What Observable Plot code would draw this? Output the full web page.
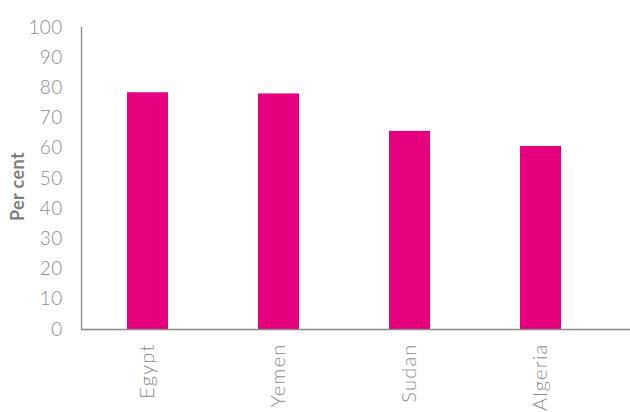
<!DOCTYPE html>
<html><head><meta charset="utf-8">
<script src="https://cdn.jsdelivr.net/npm/d3@7"></script>
<script src="https://cdn.jsdelivr.net/npm/@observablehq/plot@0.6"></script>
<style>
body{margin:0;background:#fff} svg{display:block}
g[aria-label="x-axis tick label"] text{letter-spacing:1.2px}
g[aria-label="y-axis tick label"] text{letter-spacing:0.3px}
g[aria-label="text"] text{letter-spacing:0.4px}
</style>
</head><body><div id="chart"></div>
<script>
const countries = ["Egypt", "Yemen", "Sudan", "Algeria"];
const values = [78.4, 78.0, 65.6, 60.6];
const yTicks = [0, 10, 20, 30, 40, 50, 60, 70, 80, 90, 100];
const yLabel = "Per cent";

const data = countries.map((c, i) => ({country: c, value: values[i]}));
const gray = "#8c8c8c";

const chart = Plot.plot({
  width: 630, height: 412,
  marginLeft: 81, marginRight: 0, marginTop: 27, marginBottom: 83,
  style: {fontFamily: "Lato, 'Open Sans', sans-serif", background: "#fff"},
  x: {domain: countries, range: [81, 606], paddingInner: 0.69, paddingOuter: 0.345, label: null},
  y: {domain: [0, 100], label: null},
  marks: [
    Plot.barY(data, {x: "country", y: "value", fill: "#e6007e"}),
    Plot.axisY({ticks: yTicks, tickSize: 0, tickPadding: 19, fontSize: 19, fill: gray, label: null, fontWeight: 300}),
    Plot.axisX({tickSize: 0, tickRotate: -90, tickPadding: 14, fontSize: 20, fill: gray, label: null, fontWeight: 300}),
    Plot.frame({anchor: "left", stroke: "#888", strokeWidth: 1.3}),
    Plot.ruleY([0], {stroke: "#888", strokeWidth: 1.3}),
    Plot.text([yLabel], {frameAnchor: "left", textAnchor: "middle", dx: -63, dy: 8, rotate: -90, fontSize: 18, fontWeight: "bold", fill: "#7f7f7f"})
  ]
});
document.getElementById("chart").appendChild(chart);
</script>
</body></html>
